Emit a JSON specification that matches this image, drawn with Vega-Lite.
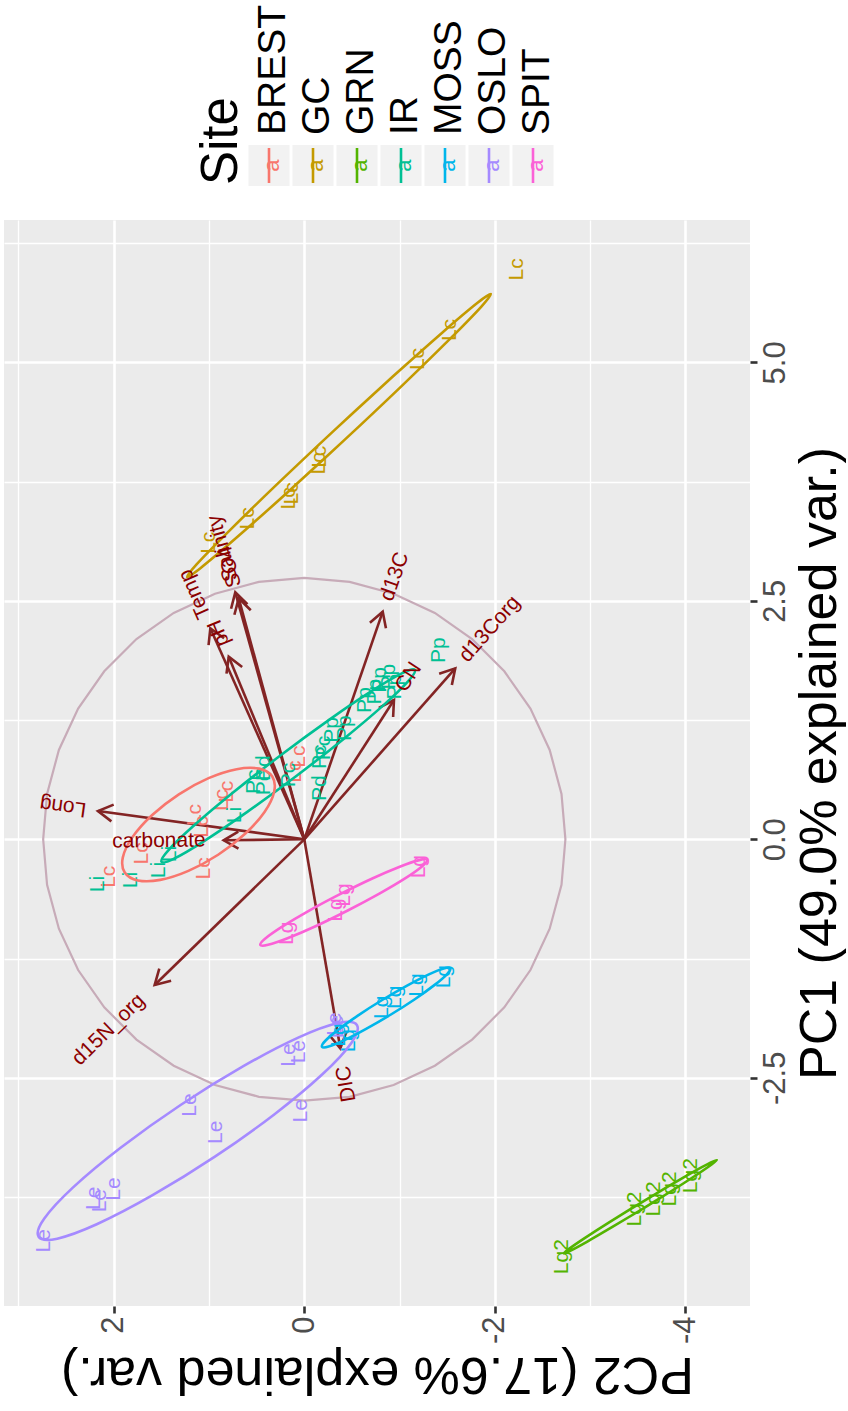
{
"$schema": "https://vega.github.io/schema/vega-lite/v6.json",
"padding": {"left": 2, "top": 0, "right": 0, "bottom": 0},
"config": {"view": {"stroke": null}, "font": "Liberation Sans"},
"spacing": 20,
"datasets": {
"sites": [{"Site":"BREST"},{"Site":"GC"},{"Site":"GRN"},{"Site":"IR"},{"Site":"MOSS"},{"Site":"OSLO"},{"Site":"SPIT"}],
"circle": [
{"i":0,"PC1":2.74,"PC2":0},{"i":1,"PC1":2.699,"PC2":0.476},{"i":2,"PC1":2.575,"PC2":0.937},{"i":3,"PC1":2.373,"PC2":1.37},{"i":4,"PC1":2.099,"PC2":1.761},{"i":5,"PC1":1.761,"PC2":2.099},{"i":6,"PC1":1.37,"PC2":2.373},{"i":7,"PC1":0.937,"PC2":2.575},{"i":8,"PC1":0.476,"PC2":2.699},{"i":9,"PC1":0,"PC2":2.74},
{"i":10,"PC1":-0.476,"PC2":2.699},{"i":11,"PC1":-0.937,"PC2":2.575},{"i":12,"PC1":-1.37,"PC2":2.373},{"i":13,"PC1":-1.761,"PC2":2.099},{"i":14,"PC1":-2.099,"PC2":1.761},{"i":15,"PC1":-2.373,"PC2":1.37},{"i":16,"PC1":-2.575,"PC2":0.937},{"i":17,"PC1":-2.699,"PC2":0.476},{"i":18,"PC1":-2.74,"PC2":0},
{"i":19,"PC1":-2.699,"PC2":-0.476},{"i":20,"PC1":-2.575,"PC2":-0.937},{"i":21,"PC1":-2.373,"PC2":-1.37},{"i":22,"PC1":-2.099,"PC2":-1.761},{"i":23,"PC1":-1.761,"PC2":-2.099},{"i":24,"PC1":-1.37,"PC2":-2.373},{"i":25,"PC1":-0.937,"PC2":-2.575},{"i":26,"PC1":-0.476,"PC2":-2.699},{"i":27,"PC1":0,"PC2":-2.74},
{"i":28,"PC1":0.476,"PC2":-2.699},{"i":29,"PC1":0.937,"PC2":-2.575},{"i":30,"PC1":1.37,"PC2":-2.373},{"i":31,"PC1":1.761,"PC2":-2.099},{"i":32,"PC1":2.099,"PC2":-1.761},{"i":33,"PC1":2.373,"PC2":-1.37},{"i":34,"PC1":2.575,"PC2":-0.937},{"i":35,"PC1":2.699,"PC2":-0.476}
],
"ellipses": [
{"Site":"GC","i":0,"PC2":-1.958,"PC1":5.716},{"Site":"GC","i":1,"PC2":-1.856,"PC1":5.582},{"Site":"GC","i":2,"PC2":-1.526,"PC1":5.243},{"Site":"GC","i":3,"PC2":-1.021,"PC1":4.751},{"Site":"GC","i":4,"PC2":-0.414,"PC1":4.179},{"Site":"GC","i":5,"PC2":0.201,"PC1":3.615},{"Site":"GC","i":6,"PC2":0.728,"PC1":3.147},{"Site":"GC","i":7,"PC2":1.090,"PC1":2.842},{"Site":"GC","i":8,"PC2":1.230,"PC1":2.750},{"Site":"GC","i":9,"PC2":1.128,"PC1":2.884},{"Site":"GC","i":10,"PC2":0.798,"PC1":3.223},{"Site":"GC","i":11,"PC2":0.293,"PC1":3.715},{"Site":"GC","i":12,"PC2":-0.314,"PC1":4.287},{"Site":"GC","i":13,"PC2":-0.929,"PC1":4.851},{"Site":"GC","i":14,"PC2":-1.456,"PC1":5.319},{"Site":"GC","i":15,"PC2":-1.818,"PC1":5.624},
{"Site":"IR","i":0,"PC2":-1.160,"PC1":1.776},{"Site":"IR","i":1,"PC2":-1.091,"PC1":1.658},{"Site":"IR","i":2,"PC2":-0.829,"PC1":1.404},{"Site":"IR","i":3,"PC2":-0.416,"PC1":1.055},{"Site":"IR","i":4,"PC2":0.087,"PC1":0.661},{"Site":"IR","i":5,"PC2":0.602,"PC1":0.285},{"Site":"IR","i":6,"PC2":1.051,"PC1":-0.018},{"Site":"IR","i":7,"PC2":1.366,"PC1":-0.202},{"Site":"IR","i":8,"PC2":1.498,"PC1":-0.236},{"Site":"IR","i":9,"PC2":1.429,"PC1":-0.118},{"Site":"IR","i":10,"PC2":1.167,"PC1":0.136},{"Site":"IR","i":11,"PC2":0.754,"PC1":0.485},{"Site":"IR","i":12,"PC2":0.251,"PC1":0.879},{"Site":"IR","i":13,"PC2":-0.264,"PC1":1.255},{"Site":"IR","i":14,"PC2":-0.713,"PC1":1.558},{"Site":"IR","i":15,"PC2":-1.028,"PC1":1.742},
{"Site":"BREST","i":0,"PC2":0.336,"PC1":0.658},{"Site":"BREST","i":1,"PC2":0.316,"PC1":0.499},{"Site":"BREST","i":2,"PC2":0.417,"PC1":0.287},{"Site":"BREST","i":3,"PC2":0.624,"PC1":0.055},{"Site":"BREST","i":4,"PC2":0.904,"PC1":-0.162},{"Site":"BREST","i":5,"PC2":1.216,"PC1":-0.331},{"Site":"BREST","i":6,"PC2":1.511,"PC1":-0.425},{"Site":"BREST","i":7,"PC2":1.746,"PC1":-0.431},{"Site":"BREST","i":8,"PC2":1.884,"PC1":-0.348},{"Site":"BREST","i":9,"PC2":1.904,"PC1":-0.189},{"Site":"BREST","i":10,"PC2":1.803,"PC1":0.023},{"Site":"BREST","i":11,"PC2":1.596,"PC1":0.255},{"Site":"BREST","i":12,"PC2":1.316,"PC1":0.472},{"Site":"BREST","i":13,"PC2":1.004,"PC1":0.641},{"Site":"BREST","i":14,"PC2":0.709,"PC1":0.735},{"Site":"BREST","i":15,"PC2":0.474,"PC1":0.741},
{"Site":"OSLO","i":0,"PC2":-0.552,"PC1":-1.946},{"Site":"OSLO","i":1,"PC2":-0.494,"PC1":-2.134},{"Site":"OSLO","i":2,"PC2":-0.190,"PC1":-2.463},{"Site":"OSLO","i":3,"PC2":0.312,"PC1":-2.881},{"Site":"OSLO","i":4,"PC2":0.938,"PC1":-3.327},{"Site":"OSLO","i":5,"PC2":1.592,"PC1":-3.731},{"Site":"OSLO","i":6,"PC2":2.172,"PC1":-4.033},{"Site":"OSLO","i":7,"PC2":2.592,"PC1":-4.186},{"Site":"OSLO","i":8,"PC2":2.788,"PC1":-4.166},{"Site":"OSLO","i":9,"PC2":2.730,"PC1":-3.978},{"Site":"OSLO","i":10,"PC2":2.426,"PC1":-3.649},{"Site":"OSLO","i":11,"PC2":1.924,"PC1":-3.231},{"Site":"OSLO","i":12,"PC2":1.298,"PC1":-2.785},{"Site":"OSLO","i":13,"PC2":0.644,"PC1":-2.381},{"Site":"OSLO","i":14,"PC2":0.064,"PC1":-2.079},{"Site":"OSLO","i":15,"PC2":-0.356,"PC1":-1.926},
{"Site":"MOSS","i":0,"PC2":-1.532,"PC1":-1.352},{"Site":"MOSS","i":1,"PC2":-1.499,"PC1":-1.412},{"Site":"MOSS","i":2,"PC2":-1.368,"PC1":-1.526},{"Site":"MOSS","i":3,"PC2":-1.160,"PC1":-1.676},{"Site":"MOSS","i":4,"PC2":-0.905,"PC1":-1.839},{"Site":"MOSS","i":5,"PC2":-0.644,"PC1":-1.990},{"Site":"MOSS","i":6,"PC2":-0.416,"PC1":-2.108},{"Site":"MOSS","i":7,"PC2":-0.255,"PC1":-2.172},{"Site":"MOSS","i":8,"PC2":-0.186,"PC1":-2.174},{"Site":"MOSS","i":9,"PC2":-0.219,"PC1":-2.114},{"Site":"MOSS","i":10,"PC2":-0.350,"PC1":-2.000},{"Site":"MOSS","i":11,"PC2":-0.558,"PC1":-1.850},{"Site":"MOSS","i":12,"PC2":-0.813,"PC1":-1.687},{"Site":"MOSS","i":13,"PC2":-1.074,"PC1":-1.536},{"Site":"MOSS","i":14,"PC2":-1.302,"PC1":-1.418},{"Site":"MOSS","i":15,"PC2":-1.463,"PC1":-1.354},
{"Site":"SPIT","i":0,"PC2":-1.288,"PC1":-0.216},{"Site":"SPIT","i":1,"PC2":-1.238,"PC1":-0.282},{"Site":"SPIT","i":2,"PC2":-1.062,"PC1":-0.407},{"Site":"SPIT","i":3,"PC2":-0.788,"PC1":-0.569},{"Site":"SPIT","i":4,"PC2":-0.456,"PC1":-0.746},{"Site":"SPIT","i":5,"PC2":-0.118,"PC1":-0.911},{"Site":"SPIT","i":6,"PC2":0.176,"PC1":-1.037},{"Site":"SPIT","i":7,"PC2":0.380,"PC1":-1.106},{"Site":"SPIT","i":8,"PC2":0.462,"PC1":-1.108},{"Site":"SPIT","i":9,"PC2":0.412,"PC1":-1.042},{"Site":"SPIT","i":10,"PC2":0.236,"PC1":-0.918},{"Site":"SPIT","i":11,"PC2":-0.038,"PC1":-0.755},{"Site":"SPIT","i":12,"PC2":-0.370,"PC1":-0.578},{"Site":"SPIT","i":13,"PC2":-0.708,"PC1":-0.413},{"Site":"SPIT","i":14,"PC2":-1.002,"PC1":-0.287},{"Site":"SPIT","i":15,"PC2":-1.206,"PC1":-0.218},
{"Site":"GRN","i":0,"PC2":-4.329,"PC1":-3.362},{"Site":"GRN","i":1,"PC2":-4.274,"PC1":-3.409},{"Site":"GRN","i":2,"PC2":-4.106,"PC1":-3.524},{"Site":"GRN","i":3,"PC2":-3.849,"PC1":-3.689},{"Site":"GRN","i":4,"PC2":-3.542,"PC1":-3.878},{"Site":"GRN","i":5,"PC2":-3.233,"PC1":-4.063},{"Site":"GRN","i":6,"PC2":-2.970,"PC1":-4.216},{"Site":"GRN","i":7,"PC2":-2.790,"PC1":-4.313},{"Site":"GRN","i":8,"PC2":-2.723,"PC1":-4.340},{"Site":"GRN","i":9,"PC2":-2.778,"PC1":-4.293},{"Site":"GRN","i":10,"PC2":-2.946,"PC1":-4.178},{"Site":"GRN","i":11,"PC2":-3.203,"PC1":-4.013},{"Site":"GRN","i":12,"PC2":-3.510,"PC1":-3.824},{"Site":"GRN","i":13,"PC2":-3.819,"PC1":-3.639},{"Site":"GRN","i":14,"PC2":-4.082,"PC1":-3.486},{"Site":"GRN","i":15,"PC2":-4.262,"PC1":-3.389}
],
"labels": [
{"Site":"GC","t":"Lc","PC1":5.975,"PC2":-2.229},{"Site":"GC","t":"Lc","PC1":5.339,"PC2":-1.532},{"Site":"GC","t":"Lc","PC1":5.035,"PC2":-1.190},{"Site":"GC","t":"Lc","PC1":4.010,"PC2":-0.168},{"Site":"GC","t":"Lc","PC1":3.941,"PC2":-0.151},{"Site":"GC","t":"Lc","PC1":3.574,"PC2":0.164},{"Site":"GC","t":"Lc","PC1":3.627,"PC2":0.129},{"Site":"GC","t":"Lc","PC1":3.365,"PC2":0.591},{"Site":"GC","t":"Lc","PC1":3.109,"PC2":1.003},
{"Site":"BREST","t":"Lc","PC1":-0.392,"PC2":2.052},{"Site":"BREST","t":"Lc","PC1":-0.147,"PC2":1.703},{"Site":"BREST","t":"Lc","PC1":0.255,"PC2":1.144},{"Site":"BREST","t":"Lc","PC1":-0.304,"PC2":1.049},{"Site":"BREST","t":"Lc","PC1":0.499,"PC2":0.811},{"Site":"BREST","t":"Lc","PC1":0.132,"PC2":1.073},{"Site":"BREST","t":"Lc","PC1":0.412,"PC2":0.864},{"Site":"BREST","t":"Lc","PC1":0.709,"PC2":0.094},{"Site":"BREST","t":"Lc","PC1":0.866,"PC2":0.059},
{"Site":"IR","t":"Li","PC1":-0.469,"PC2":2.168},{"Site":"IR","t":"Li","PC1":-0.427,"PC2":1.818},{"Site":"IR","t":"Li","PC1":-0.322,"PC2":1.528},{"Site":"IR","t":"Li","PC1":-0.154,"PC2":1.414},{"Site":"IR","t":"Li","PC1":0.255,"PC2":0.724},{"Site":"IR","t":"Pc","PC1":0.604,"PC2":0.531},{"Site":"IR","t":"Pd","PC1":0.747,"PC2":0.426},{"Site":"IR","t":"Pc","PC1":0.674,"PC2":0.164},{"Site":"IR","t":"Pc","PC1":0.590,"PC2":0.418},{"Site":"IR","t":"Pd","PC1":0.535,"PC2":-0.168},{"Site":"IR","t":"Pc","PC1":0.957,"PC2":-0.204},{"Site":"IR","t":"Pp","PC1":1.984,"PC2":-1.410},{"Site":"IR","t":"Pp","PC1":1.670,"PC2":-0.797},{"Site":"IR","t":"Pp","PC1":1.704,"PC2":-0.886},{"Site":"IR","t":"Pp","PC1":1.600,"PC2":-0.955},{"Site":"IR","t":"Pp","PC1":1.547,"PC2":-0.745},{"Site":"IR","t":"Pp","PC1":1.460,"PC2":-0.640},{"Site":"IR","t":"Pp","PC1":1.164,"PC2":-0.430},{"Site":"IR","t":"Pp","PC1":1.146,"PC2":-0.291},{"Site":"IR","t":"Pc","PC1":0.866,"PC2":-0.168},
{"Site":"OSLO","t":"Le","PC1":-4.208,"PC2":2.728},{"Site":"OSLO","t":"Le","PC1":-3.763,"PC2":2.210},{"Site":"OSLO","t":"Le","PC1":-3.788,"PC2":2.141},{"Site":"OSLO","t":"Le","PC1":-3.666,"PC2":2.000},{"Site":"OSLO","t":"Le","PC1":-2.785,"PC2":1.196},{"Site":"OSLO","t":"Le","PC1":-3.071,"PC2":0.927},{"Site":"OSLO","t":"Le","PC1":-2.261,"PC2":0.164},{"Site":"OSLO","t":"Le","PC1":-2.226,"PC2":0.052},{"Site":"OSLO","t":"Le","PC1":-2.845,"PC2":0.035},{"Site":"OSLO","t":"Le","PC1":-1.964,"PC2":-0.343},{"Site":"OSLO","t":"Le","PC1":-1.936,"PC2":-0.322},
{"Site":"MOSS","t":"Lg","PC1":-1.440,"PC2":-1.463},{"Site":"MOSS","t":"Lg","PC1":-1.527,"PC2":-1.183},{"Site":"MOSS","t":"Lg","PC1":-1.656,"PC2":-0.955},{"Site":"MOSS","t":"Lg","PC1":-1.761,"PC2":-0.815},{"Site":"MOSS","t":"Lg","PC1":-2.111,"PC2":-0.466},{"Site":"MOSS","t":"Lg","PC1":-2.051,"PC2":-0.361},
{"Site":"SPIT","t":"Lg","PC1":-0.287,"PC2":-1.207},{"Site":"SPIT","t":"Lg","PC1":-0.584,"PC2":-0.413},{"Site":"SPIT","t":"Lg","PC1":-0.741,"PC2":-0.333},{"Site":"SPIT","t":"Lg","PC1":-0.985,"PC2":0.182},
{"Site":"GRN","t":"Lg2","PC1":-4.375,"PC2":-2.704},{"Site":"GRN","t":"Lg2","PC1":-3.875,"PC2":-3.473},{"Site":"GRN","t":"Lg2","PC1":-3.770,"PC2":-3.673},{"Site":"GRN","t":"Lg2","PC1":-3.665,"PC2":-3.840},{"Site":"GRN","t":"Lg2","PC1":-3.526,"PC2":-4.058}
],
"arrows": [
{"v":"Long","PC1":0.297,"PC2":2.165},
{"v":"carbonate","PC1":-0.010,"PC2":0.846},
{"v":"Temp","PC1":2.212,"PC2":0.986},
{"v":"pH","PC1":1.914,"PC2":0.793},
{"v":"Salinity","PC1":2.589,"PC2":0.724},
{"v":"SO4","PC1":2.526,"PC2":0.688},
{"v":"d13C","PC1":2.386,"PC2":-0.823},
{"v":"d13Corg","PC1":1.792,"PC2":-1.584},
{"v":"CN","PC1":1.460,"PC2":-0.941},
{"v":"d15N_org","PC1":-1.527,"PC2":1.570},
{"v":"DIC","PC1":-2.191,"PC2":-0.378}
]
},
"vconcat": [
{
"width": 746, "height": 200,
"data": {"name": "sites"},
"layer": [
{"mark": {"type": "point", "shape": "square", "size": 1681, "filled": true, "color": "#f2f2f2", "opacity": 1, "strokeWidth": 0, "yOffset": 65.5},
 "encoding": {"x": {"field": "Site", "type": "nominal", "scale": {"type": "point", "domain": ["Site","BREST","GC","GRN","IR","MOSS","OSLO","SPIT"], "range": [221, 529], "padding": 0}, "axis": null}}},
{"mark": {"type": "point", "shape": "stroke", "angle": 90, "size": 1225, "filled": false, "strokeWidth": 2.6, "opacity": 1, "yOffset": 65.5},
 "encoding": {"x": {"field": "Site", "type": "nominal", "axis": null},
  "color": {"field": "Site", "type": "nominal", "scale": {"domain": ["BREST","GC","GRN","IR","MOSS","OSLO","SPIT"], "range": ["#F8766D","#C49A00","#53B400","#00C094","#00B6EB","#A58AFF","#FB61D7"]}, "legend": null}}},
{"mark": {"type": "text", "text": "a", "angle": 270, "fontSize": 22, "align": "center", "baseline": "middle", "yOffset": 65.5, "xOffset": 3},
 "encoding": {"x": {"field": "Site", "type": "nominal", "axis": null},
  "color": {"field": "Site", "type": "nominal", "legend": null}}},
{"mark": {"type": "text", "angle": 270, "fontSize": 39, "align": "left", "baseline": "alphabetic", "yOffset": 35, "xOffset": 16, "color": "#000000"},
 "encoding": {"x": {"field": "Site", "type": "nominal", "axis": null}, "text": {"field": "Site"}}},
{"data": {"values": [{"t": "Site"}]},
 "mark": {"type": "text", "angle": 270, "fontSize": 51, "align": "left", "baseline": "alphabetic", "yOffset": 85, "xOffset": 12, "color": "#000000"},
 "encoding": {"x": {"field": "t", "type": "nominal", "axis": null}, "text": {"field": "t"}}}
]
},
{
"width": 746, "height": 1086,
"view": {"fill": "#ebebeb", "stroke": null},
"encoding": {
 "x": {"field": "PC2", "type": "quantitative",
  "scale": {"domain": [-4.677, 3.151], "reverse": true, "nice": false, "zero": false},
  "axis": {"orient": "bottom", "values": [3, 2, 1, 0, -1, -2, -3, -4], "domain": false,
   "title": "PC2 (17.6% explained var.)", "titleFontSize": 52, "titleFontWeight": "normal", "titleColor": "#000000",
   "titleAngle": 180, "titleBaseline": "bottom", "titlePadding": 3,
   "labelExpr": "datum.value % 2 === 0 ? '' + datum.value : ''",
   "labelAngle": 270, "labelAlign": "right", "labelBaseline": "middle", "labelFontSize": 31, "labelColor": "#4d4d4d", "labelPadding": 3, "labelOverlap": false, "labelFlush": false,
   "tickColor": "#333333", "tickWidth": 2.6, "tickSize": 7,
   "tickOpacity": {"condition": {"test": "datum.value % 2 === 0", "value": 1}, "value": 0},
   "grid": true, "gridColor": "#ffffff",
   "gridWidth": {"condition": {"test": "datum.value % 2 === 0", "value": 2.6}, "value": 1.3}}},
 "y": {"field": "PC1", "type": "quantitative",
  "scale": {"domain": [-4.892, 6.492], "nice": false, "zero": false},
  "axis": {"orient": "right", "values": [6.25, 5, 3.75, 2.5, 1.25, 0, -1.25, -2.5, -3.75], "domain": false,
   "title": "PC1 (49.0% explained var.)", "titleFontSize": 52, "titleFontWeight": "normal", "titleColor": "#000000",
   "titleAngle": 270, "titleBaseline": "top", "titlePadding": 4,
   "labelExpr": "datum.value % 2.5 === 0 ? (datum.value < 0 ? '-' + format(-datum.value, '.1f') : format(datum.value, '.1f')) : ''",
   "labelAngle": 270, "labelAlign": "center", "labelBaseline": "top", "labelFontSize": 31, "labelColor": "#4d4d4d", "labelPadding": 3, "labelOverlap": false, "labelFlush": false,
   "tickColor": "#333333", "tickWidth": 2.6, "tickSize": 7,
   "tickOpacity": {"condition": {"test": "datum.value % 2.5 === 0", "value": 1}, "value": 0},
   "grid": true, "gridColor": "#ffffff",
   "gridWidth": {"condition": {"test": "datum.value % 2.5 === 0", "value": 2.6}, "value": 1.3}}}
},
"layer": [
{"data": {"name": "circle"},
 "mark": {"type": "line", "interpolate": "linear-closed", "color": "#c7abb8", "strokeWidth": 2.2},
 "encoding": {"order": {"field": "i", "type": "quantitative"}}},
{"data": {"name": "arrows"},
 "mark": {"type": "rule", "color": "#832424", "strokeWidth": 2.6},
 "encoding": {"x": {"datum": 0}, "y": {"datum": 0}, "x2": {"field": "PC2"}, "y2": {"field": "PC1"}}},
{"data": {"name": "arrows"},
 "transform": [{"calculate": "atan2(-datum.PC1, -datum.PC2) * 180 / PI", "as": "ha"}],
 "mark": {"type": "point", "shape": "M-1,-0.577L0,0L-1,0.577", "filled": false, "stroke": "#832424", "strokeWidth": 2.6, "size": 864, "opacity": 1},
 "encoding": {"angle": {"field": "ha", "type": "quantitative", "scale": null}}},
{"data": {"name": "labels"},
 "mark": {"type": "text", "angle": 270, "fontSize": 21, "align": "center", "baseline": "middle"},
 "encoding": {"text": {"field": "t"}, "color": {"field": "Site", "type": "nominal", "legend": null}}},
{"data": {"name": "ellipses"},
 "mark": {"type": "line", "interpolate": "cardinal-closed", "strokeWidth": 2.6},
 "encoding": {"color": {"field": "Site", "type": "nominal", "legend": null}, "order": {"field": "i", "type": "quantitative"}}},
{"data": {"name": "arrows"},
 "transform": [{"filter": "datum.PC1 > 0"}, {"calculate": "-90 - atan(datum.PC2 / datum.PC1) * 180 / PI", "as": "ta"}],
 "mark": {"type": "text", "fontSize": 21, "align": "left", "baseline": "middle", "dx": 12, "color": "#8B0000"},
 "encoding": {"text": {"field": "v"}, "angle": {"field": "ta", "type": "quantitative", "scale": null}}},
{"data": {"name": "arrows"},
 "transform": [{"filter": "datum.PC1 < 0"}, {"calculate": "-90 - atan(datum.PC2 / datum.PC1) * 180 / PI", "as": "ta"}],
 "mark": {"type": "text", "fontSize": 21, "align": "right", "baseline": "middle", "dx": -18, "color": "#8B0000"},
 "encoding": {"text": {"field": "v"}, "angle": {"field": "ta", "type": "quantitative", "scale": null}}}
]
}
]
}
